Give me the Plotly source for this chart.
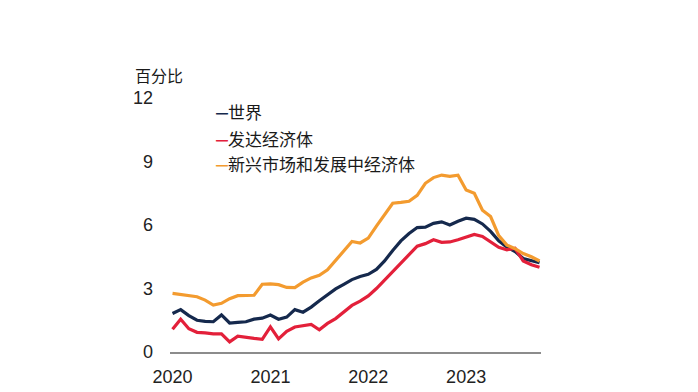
import plotly.graph_objects as go

# ---- data (monthly, Jan 2020 - Oct 2023) ----
month_index = list(range(46))
year_ticks = [0, 12, 24, 36]
year_labels = ["2020", "2021", "2022", "2023"]

series_names = ["世界", "发达经济体", "新兴市场和发展中经济体"]

world = [1.82, 2.00, 1.72, 1.50, 1.45, 1.43, 1.75, 1.37, 1.40, 1.43,
         1.55, 1.60, 1.75, 1.55, 1.65, 2.00, 1.88, 2.12, 2.42, 2.72,
         2.98, 3.20, 3.42, 3.57, 3.67, 3.90, 4.30, 4.80, 5.25, 5.60,
         5.88, 5.90, 6.08, 6.15, 6.00, 6.18, 6.32, 6.27, 6.05, 5.70,
         5.25, 4.95, 4.75, 4.42, 4.33, 4.22]

advanced = [1.07, 1.55, 1.10, 0.93, 0.90, 0.86, 0.86, 0.48, 0.75, 0.68,
            0.64, 0.60, 1.19, 0.62, 0.98, 1.18, 1.25, 1.30, 1.05, 1.35,
            1.58, 1.88, 2.20, 2.40, 2.65, 3.00, 3.40, 3.85, 4.25, 4.65,
            5.00, 5.12, 5.30, 5.18, 5.20, 5.30, 5.42, 5.55, 5.46, 5.20,
            4.95, 4.83, 4.90, 4.30, 4.12, 4.00]

emde = [2.77, 2.72, 2.66, 2.61, 2.45, 2.22, 2.30, 2.52, 2.66, 2.68,
        2.68, 3.20, 3.22, 3.18, 3.05, 3.04, 3.30, 3.50, 3.62, 3.88,
        4.32, 4.75, 5.22, 5.15, 5.38, 5.95, 6.50, 7.03, 7.07, 7.12,
        7.40, 7.97, 8.24, 8.36, 8.30, 8.35, 7.65, 7.50, 6.70, 6.40,
        5.50, 5.05, 4.88, 4.65, 4.50, 4.30]

y_ticks = [0, 3, 6, 9, 12]
y_unit = "百分比"

colors = ["#15294D", "#E3203A", "#F39B2F"]
all_series = [world, advanced, emde]

fig = go.Figure()
for name, vals, col in zip(series_names, all_series, colors):
    fig.add_trace(go.Scatter(x=month_index, y=vals, mode="lines", name=name,
                             line=dict(color=col, width=3.2),
                             showlegend=False, hoverinfo="skip"))

font_cjk = "Noto Sans CJK SC, Liberation Sans, Arial, sans-serif"

# legend as text entries
legend_y = [0.946, 0.841, 0.743]
for name, col, yy in zip(series_names, colors, legend_y):
    fig.add_annotation(
        xref="paper", yref="paper", x=0.118, y=yy,
        xanchor="left", yanchor="middle", showarrow=False,
        text=(f"<span style='color:{col};font-family:Noto Sans CJK SC;font-size:12px'>━</span>"
              f"{name}"),
        font=dict(family=font_cjk, size=17, color="#1a1a1a"),
    )

fig.add_annotation(
    xref="paper", yref="paper", x=-0.1, y=1.091,
    xanchor="left", yanchor="middle", showarrow=False,
    text=y_unit, font=dict(family=font_cjk, size=16, color="#1a1a1a"),
)

fig.update_layout(
    width=698, height=392,
    margin=dict(l=162, r=165, t=90, b=48),
    paper_bgcolor="white", plot_bgcolor="white",
    font=dict(family="Liberation Sans, Arial, sans-serif", size=18, color="#222"),
    xaxis=dict(
        range=[-0.31, 45.18], tickmode="array", tickvals=year_ticks, ticktext=year_labels,
        showgrid=False, zeroline=False, showline=True, linecolor="#8c8c8c", linewidth=1.6,
        ticks="", ticklabelstandoff=8,
        tickfont=dict(size=18, color="#222"),
    ),
    yaxis=dict(
        range=[0, 12], tickmode="array", tickvals=y_ticks,
        showgrid=False, zeroline=False, showline=False, ticks="",
        ticklabelstandoff=16,
        tickfont=dict(size=18, color="#222"),
    ),
)

fig.write_html("out.html")
